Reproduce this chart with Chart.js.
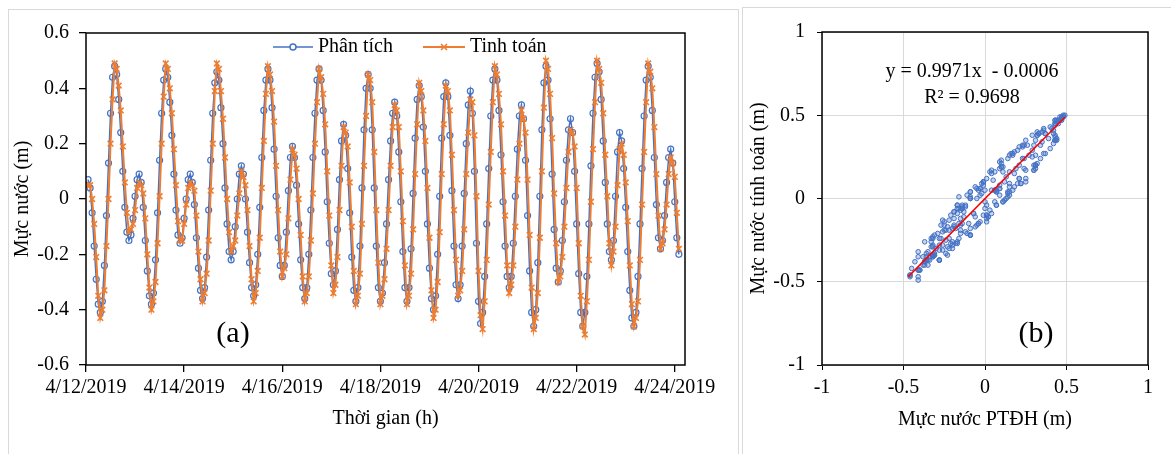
<!DOCTYPE html>
<html>
<head>
<meta charset="utf-8">
<script src="https://cdn.jsdelivr.net/npm/chart.js@4.4.1/dist/chart.umd.min.js"></script>
<style>
  html, body { margin: 0; padding: 0; background: #fff; }
  body { width: 1171px; height: 454px; position: relative; overflow: hidden; }
  .panel { position: absolute; border: 1px solid #d9d9d9; box-sizing: border-box; }
  canvas { position: absolute; top: 0; }
</style>
</head>
<body>
<div class="panel" style="left:8px; top:9px; width:731px; height:470px;"></div>
<div class="panel" style="left:742px; top:7px; width:440px; height:470px;"></div>
<canvas id="chartA" width="737" height="454" style="left:0px"></canvas>
<canvas id="chartB" width="430" height="454" style="left:741px"></canvas>
<script>
// Hourly water level, starting 4/12/2019 01:00 (hour 1)
const startHour = 1;

// Phân tích (m)
const phanTich = [
    0.07, 0.04, -0.05, -0.17, -0.29, -0.38, -0.41, -0.37, -0.24, -0.06, 0.13, 0.31, 0.44, 0.48, 0.45, 0.36, 0.24, 0.10, -0.03, -0.12, -0.15, -0.13, -0.07, 0.01,
    0.07, 0.09, 0.06, -0.03, -0.15, -0.26, -0.35, -0.38, -0.34, -0.22, -0.05, 0.14, 0.31, 0.43, 0.47, 0.44, 0.35, 0.23, 0.09, -0.04, -0.13, -0.16, -0.14, -0.07,
    0.00, 0.07, 0.09, 0.06, -0.02, -0.14, -0.25, -0.33, -0.36, -0.32, -0.21, -0.04, 0.14, 0.31, 0.42, 0.46, 0.43, 0.33, 0.20, 0.04, -0.09, -0.19, -0.22, -0.19,
    -0.10, 0.00, 0.09, 0.12, 0.09, 0.00, -0.12, -0.23, -0.32, -0.35, -0.31, -0.20, -0.03, 0.15, 0.32, 0.43, 0.47, 0.43, 0.33, 0.18, 0.01, -0.14, -0.24, -0.28,
    -0.24, -0.12, 0.03, 0.15, 0.19, 0.15, 0.05, -0.09, -0.22, -0.32, -0.36, -0.32, -0.20, -0.04, 0.15, 0.31, 0.43, 0.47, 0.43, 0.32, 0.17, -0.01, -0.16, -0.27,
    -0.31, -0.26, -0.11, 0.07, 0.21, 0.27, 0.23, 0.11, -0.05, -0.21, -0.33, -0.37, -0.32, -0.17, 0.04, 0.25, 0.40, 0.45, 0.40, 0.25, 0.04, -0.17, -0.32, -0.37,
    -0.34, -0.23, -0.09, 0.07, 0.21, 0.31, 0.35, 0.30, 0.17, -0.01, -0.19, -0.32, -0.37, -0.32, -0.18, 0.02, 0.22, 0.36, 0.41, 0.37, 0.26, 0.10, -0.09, -0.25,
    -0.36, -0.40, -0.35, -0.20, 0.01, 0.22, 0.37, 0.42, 0.37, 0.23, 0.03, -0.17, -0.31, -0.36, -0.31, -0.17, 0.02, 0.20, 0.34, 0.39, 0.31, 0.10, -0.16, -0.37,
    -0.45, -0.41, -0.28, -0.09, 0.11, 0.30, 0.43, 0.47, 0.43, 0.32, 0.16, -0.01, -0.17, -0.28, -0.32, -0.28, -0.16, 0.01, 0.18, 0.30, 0.34, 0.29, 0.14, -0.06,
    -0.26, -0.41, -0.46, -0.40, -0.23, 0.01, 0.25, 0.42, 0.48, 0.43, 0.29, 0.09, -0.11, -0.25, -0.30, -0.26, -0.15, -0.01, 0.14, 0.25, 0.29, 0.24, 0.10, -0.09,
    -0.27, -0.41, -0.46, -0.41, -0.28, -0.09, 0.12, 0.31, 0.44, 0.49, 0.46, 0.36, 0.21, 0.06, -0.09, -0.19, -0.22, -0.15, 0.01, 0.17, 0.24, 0.21, 0.11, -0.03,
    -0.19, -0.33, -0.43, -0.46, -0.41, -0.28, -0.09, 0.11, 0.30, 0.43, 0.48, 0.44, 0.32, 0.15, -0.02, -0.14, -0.18, -0.15, -0.06, 0.06, 0.15, 0.18, 0.13, -0.01,
    -0.14, -0.20
];

// Tinh toán (m)
const tinhToan = [
    0.05, 0.05, 0.00, -0.09, -0.21, -0.35, -0.43, -0.40, -0.33, -0.17, 0.00, 0.20, 0.36, 0.49, 0.47, 0.41, 0.32, 0.19, 0.06, -0.05, -0.12, -0.11, -0.09, -0.04,
    0.04, 0.06, 0.05, 0.02, -0.07, -0.20, -0.32, -0.40, -0.37, -0.30, -0.16, 0.01, 0.20, 0.37, 0.49, 0.47, 0.40, 0.31, 0.18, 0.05, -0.08, -0.15, -0.15, -0.09,
    -0.02, 0.04, 0.06, 0.05, 0.03, -0.06, -0.19, -0.29, -0.37, -0.34, -0.27, -0.15, 0.03, 0.20, 0.39, 0.49, 0.47, 0.39, 0.29, 0.15, 0.00, -0.12, -0.19, -0.17,
    -0.15, -0.06, 0.02, 0.10, 0.08, 0.05, -0.04, -0.17, -0.29, -0.37, -0.34, -0.26, -0.14, 0.04, 0.21, 0.38, 0.48, 0.45, 0.39, 0.28, 0.12, -0.04, -0.19, -0.28,
    -0.25, -0.20, -0.07, 0.07, 0.18, 0.16, 0.11, 0.00, -0.13, -0.28, -0.37, -0.34, -0.28, -0.15, 0.02, 0.20, 0.35, 0.47, 0.44, 0.38, 0.27, 0.10, -0.06, -0.24,
    -0.34, -0.31, -0.21, -0.04, 0.12, 0.26, 0.24, 0.19, 0.06, -0.10, -0.26, -0.38, -0.35, -0.27, -0.09, 0.12, 0.30, 0.45, 0.43, 0.35, 0.17, -0.04, -0.23, -0.38,
    -0.35, -0.29, -0.18, -0.04, 0.12, 0.26, 0.34, 0.32, 0.26, 0.10, -0.08, -0.24, -0.38, -0.35, -0.27, -0.11, 0.09, 0.27, 0.42, 0.39, 0.32, 0.21, 0.04, -0.14,
    -0.33, -0.43, -0.40, -0.30, -0.12, 0.09, 0.27, 0.41, 0.39, 0.32, 0.16, -0.04, -0.22, -0.35, -0.33, -0.26, -0.11, 0.09, 0.24, 0.36, 0.35, 0.23, 0.01, -0.26,
    -0.42, -0.47, -0.37, -0.22, -0.02, 0.17, 0.35, 0.48, 0.45, 0.38, 0.27, 0.10, -0.06, -0.24, -0.34, -0.31, -0.24, -0.10, 0.07, 0.20, 0.32, 0.29, 0.24, 0.07,
    -0.13, -0.32, -0.47, -0.43, -0.34, -0.14, 0.10, 0.33, 0.50, 0.47, 0.38, 0.22, 0.02, -0.16, -0.30, -0.28, -0.21, -0.10, 0.04, 0.17, 0.25, 0.24, 0.19, 0.04,
    -0.16, -0.35, -0.46, -0.49, -0.37, -0.22, -0.01, 0.18, 0.35, 0.50, 0.47, 0.42, 0.31, 0.16, 0.01, -0.16, -0.24, -0.19, -0.10, 0.05, 0.18, 0.20, 0.16, 0.06,
    -0.08, -0.24, -0.38, -0.46, -0.43, -0.37, -0.22, -0.02, 0.17, 0.35, 0.49, 0.46, 0.40, 0.26, 0.09, -0.06, -0.18, -0.16, -0.11, -0.02, 0.09, 0.15, 0.13, 0.08,
    -0.05, -0.18
];

// X axis ticks (hours from 4/12/2019 00:00)
const dateTickHours = [0, 48, 96, 144, 192, 240, 288];
const dateTickLabels = ['4/12/2019', '4/14/2019', '4/16/2019', '4/18/2019', '4/20/2019', '4/22/2019', '4/24/2019'];
const hourAxisMax = 293;

// Trend line of panel (b)
const trendSlope = 0.9971;
const trendIntercept = -0.0006;
const trendXRange = [-0.47, 0.49];
const trendLabel = 'y = 0.9971x  - 0.0006';
const r2Label = 'R² = 0.9698';

const BLUE = '#4472C4';
const ORANGE = '#ED7D31';
const SERIF = "'Times New Roman', 'Liberation Serif', serif";
const tickFont = { family: SERIF, size: 20 };

// Black box round the plot area plus free text
function framePlugin(drawExtra) {
    return {
        id: 'frame',
        afterDraw(chart) {
            const ctx = chart.ctx;
            const a = chart.chartArea;
            ctx.save();
            ctx.strokeStyle = '#000';
            ctx.lineWidth = 1.5;
            ctx.strokeRect(a.left, a.top, a.right - a.left, a.bottom - a.top);
            ctx.fillStyle = '#000';
            drawExtra(ctx, chart);
            ctx.restore();
        }
    };
}

// Panel (a): time series
const seriesA = phanTich.map((v, i) => ({ x: startHour + i, y: v }));
const seriesB = tinhToan.map((v, i) => ({ x: startHour + i, y: v }));

new Chart(document.getElementById('chartA').getContext('2d'), {
    type: 'line',
    data: {
        datasets: [{
            label: 'Phân tích',
            data: seriesA,
            borderColor: BLUE,
            borderWidth: 1.5,
            pointStyle: 'circle',
            pointRadius: 3,
            pointBorderWidth: 1.2,
            pointBorderColor: BLUE,
            pointBackgroundColor: 'rgba(255,255,255,0)',
            order: 1
        }, {
            label: 'Tinh toán',
            data: seriesB,
            borderColor: ORANGE,
            borderWidth: 2,
            pointStyle: 'crossRot',
            pointRadius: 4,
            pointBorderWidth: 1.6,
            pointBorderColor: ORANGE,
            order: 0
        }]
    },
    options: {
        responsive: false,
        animation: false,
        layout: { padding: { top: 33, right: 52, left: 0, bottom: 0 } },
        plugins: { legend: { display: false }, tooltip: { enabled: false } },
        scales: {
            x: {
                type: 'linear',
                min: 0,
                max: hourAxisMax,
                afterFit: s => { s.height = 89; },
                afterBuildTicks: s => { s.ticks = dateTickHours.map(v => ({ value: v })); },
                grid: { drawOnChartArea: false, tickLength: 7, tickColor: '#000', lineWidth: 1.3 },
                border: { display: false },
                ticks: {
                    font: tickFont, color: '#000', padding: 4, maxRotation: 0, autoSkip: false,
                    callback: v => dateTickLabels[dateTickHours.indexOf(v)]
                },
                title: { display: true, text: 'Thời gian (h)', font: tickFont, color: '#000', padding: { top: 0, bottom: 23 } }
            },
            y: {
                min: -0.6,
                max: 0.6,
                afterFit: s => { s.width = 86; },
                grid: { drawOnChartArea: false, tickLength: 7, tickColor: '#000', lineWidth: 1.3 },
                border: { display: false },
                ticks: { stepSize: 0.2, font: tickFont, color: '#000', padding: 10, callback: v => String(Math.round(v * 10) / 10) },
                title: { display: true, text: 'Mực nước (m)', font: tickFont, color: '#000', padding: { top: 11, bottom: 0 } }
            }
        }
    },
    plugins: [framePlugin((ctx, chart) => {
        // legend inside the plot area
        const ly = 47;
        ctx.lineWidth = 1.5;
        ctx.strokeStyle = BLUE;
        ctx.beginPath(); ctx.moveTo(273, ly); ctx.lineTo(313, ly); ctx.stroke();
        ctx.fillStyle = '#fff';
        ctx.beginPath(); ctx.arc(293, ly, 3, 0, Math.PI * 2); ctx.fill(); ctx.stroke();
        ctx.strokeStyle = ORANGE;
        ctx.lineWidth = 2;
        ctx.beginPath(); ctx.moveTo(423, ly); ctx.lineTo(465, ly); ctx.stroke();
        ctx.lineWidth = 1.6;
        ctx.beginPath();
        ctx.moveTo(441, ly - 3); ctx.lineTo(447, ly + 3);
        ctx.moveTo(441, ly + 3); ctx.lineTo(447, ly - 3);
        ctx.stroke();
        ctx.fillStyle = '#000';
        ctx.font = '20px ' + SERIF;
        ctx.textBaseline = 'middle';
        ctx.textAlign = 'left';
        ctx.fillText('Phân tích', 318, ly);
        ctx.fillText('Tinh toán', 470, ly);
        ctx.font = '30px ' + SERIF;
        ctx.textAlign = 'center';
        ctx.fillText('(a)', 233, 334);
    })]
});

// Panel (b): scatter of computed against analysed levels
const scatterPoints = phanTich.map((v, i) => ({ x: v, y: tinhToan[i] }));
const trendPoints = trendXRange.map(x => ({ x: x, y: trendSlope * x + trendIntercept }));

new Chart(document.getElementById('chartB').getContext('2d'), {
    type: 'scatter',
    data: {
        datasets: [{
            data: scatterPoints,
            pointStyle: 'circle',
            pointRadius: 2.3,
            borderWidth: 1,
            borderColor: BLUE,
            backgroundColor: 'rgba(68,114,196,0.3)',
            order: 1
        }, {
            type: 'line',
            data: trendPoints,
            borderColor: '#FF0000',
            borderWidth: 1.5,
            pointRadius: 0,
            order: 0
        }]
    },
    options: {
        responsive: false,
        animation: false,
        layout: { padding: { top: 32, right: 23, left: 0, bottom: 0 } },
        plugins: { legend: { display: false }, tooltip: { enabled: false } },
        scales: {
            x: {
                type: 'linear',
                min: -1,
                max: 1,
                afterFit: s => { s.height = 89; },
                grid: { color: '#d9d9d9', tickColor: '#000', tickLength: 5, lineWidth: 1 },
                border: { display: false },
                ticks: { stepSize: 0.5, font: tickFont, color: '#000', padding: 6, maxRotation: 0, callback: v => String(v) },
                title: { display: true, text: 'Mực nước PTĐH (m)', font: tickFont, color: '#000', padding: { top: 0, bottom: 22 } }
            },
            y: {
                min: -1,
                max: 1,
                afterFit: s => { s.width = 81; },
                grid: { color: '#d9d9d9', tickColor: '#000', tickLength: 5, lineWidth: 1 },
                border: { display: false },
                ticks: { stepSize: 0.5, font: tickFont, color: '#000', padding: 12, callback: v => String(v) },
                title: { display: true, text: 'Mực nước tính toán (m)', font: tickFont, color: '#000', padding: { top: 6, bottom: 0 } }
            }
        }
    },
    plugins: [framePlugin((ctx, chart) => {
        ctx.font = '20px ' + SERIF;
        ctx.textAlign = 'center';
        ctx.textBaseline = 'middle';
        ctx.fillText(trendLabel, 231, 72);
        ctx.fillText(r2Label, 231, 98);
        ctx.font = '30px ' + SERIF;
        ctx.fillText('(b)', 295, 334);
    })]
});
</script>
</body>
</html>
